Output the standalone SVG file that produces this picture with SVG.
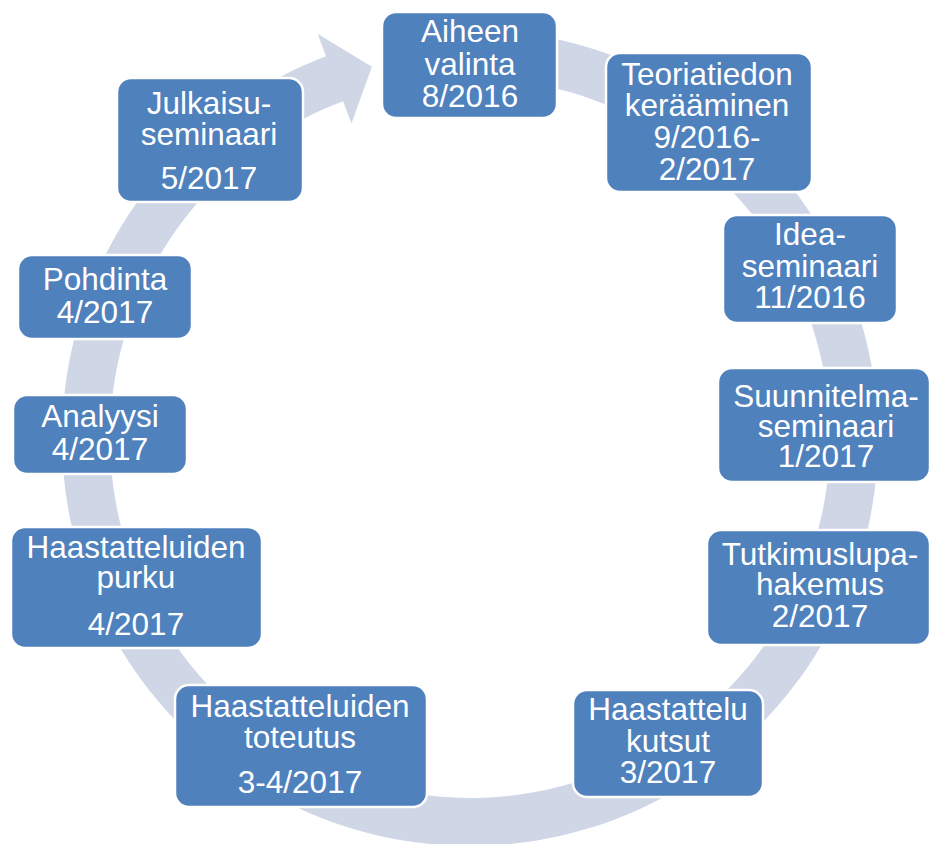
<svg xmlns="http://www.w3.org/2000/svg" width="932" height="844" viewBox="0 0 932 844">
<style>
.box{fill:#4f81bd;stroke:#ffffff;stroke-width:2.5}
.t{font-family:"Liberation Sans",Arial,sans-serif;font-size:31.5px;fill:#ffffff;text-anchor:middle}
.ring{fill:#cfd6e6}
</style>
<rect x="0" y="0" width="932" height="844" fill="#ffffff"/>
<g id="connectors">
<path class="ring" d="M434.44,31.55 A408,408 0 1 1 326.06,56.23 L317.59,33.78 L371.91,66.75 L351.46,123.60 L342.99,101.15 A360,360 0 1 0 438.62,79.37 Z"/>
</g>
<g id="n1"><rect class="box" x="382" y="12" width="175" height="106" rx="14"/>
<text class="t" x="470" y="42">Aiheen</text><text class="t" x="470" y="75">valinta</text><text class="t" x="470" y="107">8/2016</text></g>
<g id="n2"><rect class="box" x="606" y="53" width="206" height="139" rx="14"/>
<text class="t" x="707" y="85">Teoriatiedon</text><text class="t" x="707" y="116">kerääminen</text><text class="t" x="707" y="148">9/2016-</text><text class="t" x="707" y="180">2/2017</text></g>
<g id="n3"><rect class="box" x="723" y="215" width="174" height="108" rx="14"/>
<text class="t" x="810" y="245">Idea-</text><text class="t" x="810" y="277">seminaari</text><text class="t" x="810" y="308">11/2016</text></g>
<g id="n4"><rect class="box" x="718" y="368" width="212" height="114" rx="14"/>
<text class="t" x="826" y="407">Suunnitelma-</text><text class="t" x="826" y="437">seminaari</text><text class="t" x="826" y="467">1/2017</text></g>
<g id="n5"><rect class="box" x="707" y="530" width="223" height="115" rx="14"/>
<text class="t" x="820" y="565">Tutkimuslupa-</text><text class="t" x="820" y="595">hakemus</text><text class="t" x="820" y="627">2/2017</text></g>
<g id="n6"><rect class="box" x="573" y="690" width="190" height="107" rx="14"/>
<text class="t" x="668" y="720">Haastattelu</text><text class="t" x="668" y="752">kutsut</text><text class="t" x="668" y="783">3/2017</text></g>
<g id="n7"><rect class="box" x="175" y="685" width="252" height="122" rx="14"/>
<text class="t" x="300" y="717">Haastatteluiden</text><text class="t" x="300" y="748">toteutus</text><text class="t" x="300" y="793">3-4/2017</text></g>
<g id="n8"><rect class="box" x="11" y="527" width="251" height="121" rx="14"/>
<text class="t" x="136" y="558">Haastatteluiden</text><text class="t" x="136" y="588">purku</text><text class="t" x="136" y="635">4/2017</text></g>
<g id="n9"><rect class="box" x="13" y="395" width="174" height="79" rx="14"/>
<text class="t" x="100" y="427">Analyysi</text><text class="t" x="100" y="460">4/2017</text></g>
<g id="n10"><rect class="box" x="18" y="255" width="174" height="84" rx="14"/>
<text class="t" x="105" y="290">Pohdinta</text><text class="t" x="105" y="323">4/2017</text></g>
<g id="n11"><rect class="box" x="117" y="78" width="186" height="124" rx="14"/>
<text class="t" x="209" y="114">Julkaisu-</text><text class="t" x="209" y="145">seminaari</text><text class="t" x="209" y="189">5/2017</text></g>
</svg>
